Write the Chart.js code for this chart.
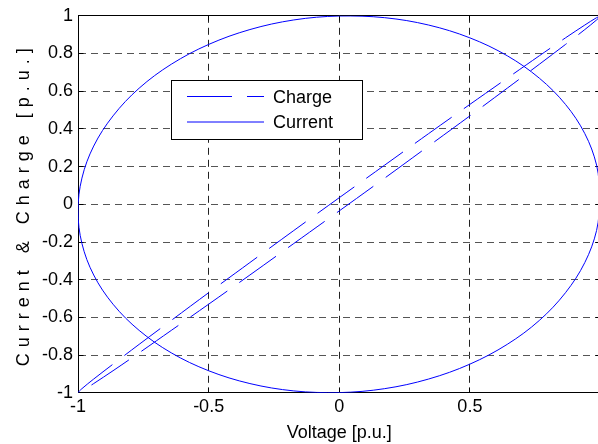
<!DOCTYPE html>
<html>
<head>
<meta charset="utf-8">
<script src="https://cdn.jsdelivr.net/npm/chart.js@4/dist/chart.umd.min.js"></script>
<style>
  html, body { margin: 0; padding: 0; background: #fff; overflow: hidden; }
  #wrap { width: 598px; height: 444px; overflow: hidden; position: relative; }
  canvas { display: block; }
</style>
</head>
<body>
<div id="wrap"><canvas id="chart" width="604" height="444"></canvas></div>
<script>
// Voltage sweep over one cycle (10-degree steps), in per-unit
const voltage = [1.000, 0.985, 0.940, 0.866, 0.766, 0.643, 0.500, 0.342, 0.174, 0.000,
  -0.174, -0.342, -0.500, -0.643, -0.766, -0.866, -0.940, -0.985, -1.000,
  -0.985, -0.940, -0.866, -0.766, -0.643, -0.500, -0.342, -0.174, 0.000,
  0.174, 0.342, 0.500, 0.643, 0.766, 0.866, 0.940, 0.985, 1.000];

// Current at the same instants (leads the voltage by roughly a quarter cycle)
const current = [0.035, 0.208, 0.375, 0.530, 0.669, 0.788, 0.883, 0.951, 0.990, 0.999,
  0.978, 0.927, 0.848, 0.743, 0.616, 0.469, 0.309, 0.139, -0.035,
  -0.208, -0.375, -0.530, -0.669, -0.788, -0.883, -0.951, -0.990, -0.999,
  -0.978, -0.927, -0.848, -0.743, -0.616, -0.469, -0.309, -0.139, 0.035];

// Charge at the same instants (narrow loop around the diagonal)
const charge = [0.999, 0.990, 0.951, 0.883, 0.788, 0.669, 0.530, 0.375, 0.208, 0.035,
  -0.139, -0.309, -0.469, -0.616, -0.743, -0.848, -0.927, -0.978, -0.999,
  -0.990, -0.951, -0.883, -0.788, -0.669, -0.530, -0.375, -0.208, -0.035,
  0.139, 0.309, 0.469, 0.616, 0.743, 0.848, 0.927, 0.978, 0.999];

const seriesNames = ['Charge', 'Current'];
const xTicks = [-1, -0.5, 0, 0.5, 1];
const yTicks = [-1, -0.8, -0.6, -0.4, -0.2, 0, 0.2, 0.4, 0.6, 0.8, 1];

const toPoints = ys => voltage.map((v, i) => ({ x: v, y: ys[i] }));
const FONT = 'Arial, "Liberation Sans", sans-serif';

// Spaced-out lettering for the vertical axis title
const spacedTitle = {
  id: 'spacedTitle',
  beforeDraw(chart, args, opts) {
    const s = chart.scales.y;
    if (!s || s.__spaced) return;
    const orig = s.drawTitle.bind(s);
    s.drawTitle = function () {
      const c = this.ctx;
      const prev = c.letterSpacing;
      c.letterSpacing = opts.spacing;
      orig();
      c.letterSpacing = prev || '0px';
    };
    s.__spaced = true;
  }
};

// Top/right frame edges and small inward tick marks
const axesFrame = {
  id: 'axesFrame',
  beforeDatasetsDraw(chart, args, opts) {
    const { ctx, chartArea: a, scales: { x, y } } = chart;
    const al = p => Math.round(p - 0.5) + 0.5;
    const L = al(a.left), R = al(a.right), T = al(a.top), B = al(a.bottom);
    ctx.save();
    ctx.strokeStyle = '#000';
    ctx.lineWidth = 1;
    ctx.setLineDash([]);
    ctx.beginPath();
    ctx.moveTo(L, T); ctx.lineTo(R, T);
    ctx.moveTo(R, T); ctx.lineTo(R, B);
    x.ticks.forEach(t => {
      const px = al(x.getPixelForValue(t.value));
      ctx.moveTo(px, B); ctx.lineTo(px, B - opts.len);
      ctx.moveTo(px, T); ctx.lineTo(px, T + opts.len);
    });
    y.ticks.forEach(t => {
      const py = al(y.getPixelForValue(t.value));
      ctx.moveTo(L, py); ctx.lineTo(L + opts.len, py);
      ctx.moveTo(R, py); ctx.lineTo(R - opts.len, py);
    });
    ctx.stroke();
    ctx.restore();
  }
};

// Boxed legend drawn inside the plot area
const boxLegend = {
  id: 'boxLegend',
  afterDatasetsDraw(chart, args, o) {
    const ctx = chart.ctx;
    ctx.save();
    ctx.fillStyle = '#fff';
    ctx.fillRect(o.left, o.top, o.width, o.height);
    ctx.strokeStyle = '#000';
    ctx.lineWidth = 1;
    ctx.setLineDash([]);
    ctx.strokeRect(o.left + 0.5, o.top + 0.5, o.width, o.height);
    chart.data.datasets.forEach((ds, i) => {
      const yy = o.rows[i];
      ctx.beginPath();
      ctx.strokeStyle = ds.borderColor;
      ctx.lineWidth = ds.borderWidth;
      ctx.setLineDash(ds.borderDash || []);
      ctx.moveTo(o.lineStart, yy);
      ctx.lineTo(o.lineEnd, yy);
      ctx.stroke();
      ctx.setLineDash([]);
      ctx.fillStyle = '#000';
      ctx.font = o.font;
      ctx.textBaseline = 'middle';
      ctx.textAlign = 'left';
      ctx.fillText(ds.label, o.textX, Math.round(yy) + 1);
    });
    ctx.restore();
  }
};

new Chart(document.getElementById('chart'), {
  type: 'line',
  data: {
    datasets: [
      {
        label: seriesNames[0],
        data: toPoints(charge),
        borderColor: '#0000ff',
        borderWidth: 1,
        borderDash: [45, 15],
        pointRadius: 0,
        tension: 0.35,
        fill: false
      },
      {
        label: seriesNames[1],
        data: toPoints(current),
        borderColor: '#0000ff',
        borderWidth: 1,
        pointRadius: 0,
        tension: 0.35,
        fill: false
      }
    ]
  },
  options: {
    responsive: false,
    animation: false,
    events: [],
    layout: { padding: { left: 0, top: 15, right: 3.5, bottom: 0 } },
    plugins: {
      legend: { display: false },
      tooltip: { enabled: false },
      spacedTitle: { spacing: '6px' },
      axesFrame: { len: 5 },
      boxLegend: {
        left: 171, top: 80, width: 191, height: 59,
        rows: [96.5, 122],
        lineStart: 187, lineEnd: 264, textX: 273,
        font: '18px ' + FONT
      }
    },
    scales: {
      x: {
        type: 'linear',
        min: -1, max: 1,
        afterBuildTicks: s => { s.ticks = xTicks.map(v => ({ value: v })); },
        ticks: {
          color: '#000',
          font: { family: FONT, size: 18 },
          padding: 3,
          maxRotation: 0,
          autoSkip: false,
          // the right end of the axis sits past the page edge, so its label stays blank
          callback: v => (v === 1 ? '' : String(v))
        },
        grid: { color: '#222', lineWidth: 1, drawTicks: false },
        border: { display: true, color: '#000', width: 1, dash: [7, 5] },
        title: {
          display: true,
          text: 'Voltage [p.u.]',
          color: '#000',
          font: { family: FONT, size: 18 },
          padding: { top: 2, bottom: 0 }
        }
      },
      y: {
        type: 'linear',
        min: -1, max: 1,
        afterBuildTicks: s => { s.ticks = yTicks.map(v => ({ value: v })); },
        ticks: {
          color: '#000',
          font: { family: FONT, size: 18 },
          padding: 5,
          autoSkip: false,
          callback: v => String(v)
        },
        grid: { color: '#555', lineWidth: 1, drawTicks: false },
        border: { display: true, color: '#000', width: 1, dash: [7, 5] },
        title: {
          display: true,
          text: 'Current & Charge [p.u.]',
          color: '#000',
          font: { family: FONT, size: 18 },
          padding: { top: 13, bottom: 2.4 }
        }
      }
    }
  },
  plugins: [spacedTitle, axesFrame, boxLegend]
});
</script>
</body>
</html>
